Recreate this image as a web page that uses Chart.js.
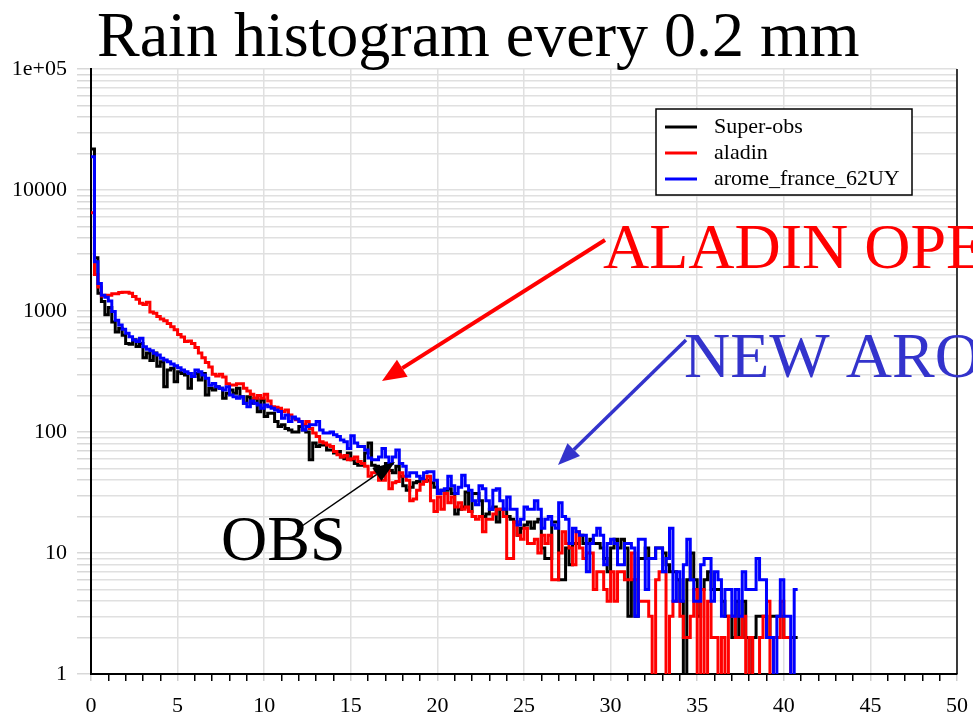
<!DOCTYPE html>
<html>
<head>
<meta charset="utf-8">
<title>Rain histogram every 0.2 mm</title>
<script src="https://cdn.jsdelivr.net/npm/chart.js@4.4.0/dist/chart.umd.min.js"></script>
<style>
    html, body { margin: 0; padding: 0; background: #fff; }
    #wrap { width: 973px; height: 720px; position: relative; }
</style>
</head>
<body>
<div id="wrap"><canvas id="rainChart" width="973" height="720"></canvas></div>
<script>
// ============================
// Data (counts per 0.2 mm bin, first bin starts at 0 mm)
// ============================
const binWidth = 0.2;

const superObs = [
    21800, 2750, 1400, 1200, 930, 1070, 810, 670, 720, 630,
    540, 530, 580, 510, 540, 410, 450, 390, 450, 350,
    380, 237, 325, 336, 260, 315, 305, 296, 230, 287,
    305, 269, 305, 202, 230, 222, 237, 230, 190, 209,
    222, 209, 230, 196, 173, 196, 173, 190, 147, 184,
    134, 143, 143, 122, 111, 115, 107, 104, 100, 100,
    111, 104, 100, 59, 81, 76, 78, 78, 71, 71,
    67, 69, 62, 60, 67, 59, 55, 53, 53, 67,
    81, 53, 52, 48, 50, 55, 48, 46, 52, 43,
    36, 33, 35, 38, 39, 41, 40, 40, 38, 35,
    31, 33, 33, 34, 31, 21, 23, 24, 32, 22,
    31, 31, 27, 20, 21, 23, 24, 18, 23, 23,
    20, 19, 18, 14, 16, 17, 18, 16, 18, 19,
    11, 9, 9, 18, 18, 6, 6, 11, 8, 12,
    12, 14, 12, 12, 13, 12, 12, 11, 9, 7,
    11, 13, 11, 13, 11, 3, 6, 3, 9, 9,
    11, 9, 9, 11, 11, 10, 8, 7, 7, 6,
    4, 0, 6, 10, 6, 3, 5, 6, 7, 5,
    5, 5, 4, 3, 3, 2, 4, 2, 4, 2,
    0, 2, 3, 3, 3, 2, 3, 3, 3, 3,
    2, 2, 2, 2
];

const aladin = [
    6500, 2000, 1580, 1330, 1350, 1350, 1390, 1390, 1420, 1430,
    1430, 1400, 1320, 1250, 1160, 1130, 1180, 980, 960, 900,
    860, 830, 790, 740, 700, 640, 610, 560, 565, 540,
    500, 450, 410, 375, 345, 300, 290, 300, 285, 250,
    245, 245, 250, 250, 230, 218, 205, 190, 200, 190,
    205, 180, 162, 160, 157, 148, 152, 138, 130, 126,
    122, 115, 122, 107, 98, 92, 83, 81, 78, 76,
    69, 65, 62, 64, 59, 60, 62, 57, 55, 52,
    43, 46, 48, 40, 40, 48, 34, 38, 39, 46,
    43, 40, 27, 28, 33, 37, 39, 43, 27, 22,
    29, 23, 31, 26, 29, 24, 26, 23, 24, 22,
    20, 19, 20, 15, 19, 19, 21, 23, 23, 20,
    9, 9, 18, 14, 13, 16, 12, 12, 13, 10,
    14, 12, 14, 6, 6, 10, 15, 12, 11, 8,
    15, 11, 9, 10, 10, 5, 7, 7, 5, 4,
    7, 4, 7, 7, 6, 6, 10, 6, 4, 4,
    4, 3, 0, 6, 7, 7, 0, 3, 4, 4,
    3, 2, 2, 3, 5, 0, 5, 0, 4, 2,
    2, 0, 2, 0, 3, 3, 2, 2, 3, 0,
    2, 0, 0, 2, 3, 4, 0, 2, 2, 4,
    2, 2, 0, 0
];

const arome = [
    18800, 2550, 1690, 1350, 1300, 1210, 990, 840, 766, 706,
    654, 613, 576, 560, 595, 507, 483, 470, 447, 433,
    406, 394, 381, 365, 352, 340, 325, 315, 305, 287,
    325, 315, 296, 278, 244, 252, 237, 230, 222, 237,
    202, 196, 190, 196, 173, 162, 180, 173, 167, 157,
    167, 162, 157, 152, 148, 130, 138, 122, 133, 128,
    122, 104, 111, 115, 115, 122, 104, 98, 98, 100,
    95, 92, 86, 83, 73, 93, 81, 76, 76, 71,
    61, 59, 59, 62, 73, 62, 55, 62, 71, 55,
    52, 43, 46, 46, 43, 41, 46, 47, 47, 40,
    31, 33, 34, 43, 36, 31, 35, 44, 36, 33,
    27, 25, 36, 34, 27, 23, 33, 34, 27, 23,
    29, 23, 23, 17, 19, 24, 23, 23, 27, 23,
    16, 19, 20, 17, 16, 26, 20, 19, 12, 16,
    15, 14, 14, 7, 12, 14, 16, 14, 8, 12,
    13, 12, 8, 8, 12, 12, 11, 3, 13, 13,
    5, 9, 9, 11, 11, 7, 9, 16, 4, 7,
    4, 8, 13, 6, 4, 4, 8, 9, 9, 4,
    7, 6, 3, 5, 5, 3, 5, 3, 7, 5,
    5, 5, 9, 6, 6, 2, 2, 0, 3, 6,
    3, 3, 0, 5
];

const seriesLabels = ["Super-obs", "aladin", "arome_france_62UY"];
const seriesColors = ["#000000", "#ff0000", "#0000ff"];

const xTickLabels = [0, 5, 10, 15, 20, 25, 30, 35, 40, 45, 50];
const yMajorTicks = [1, 10, 100, 1000, 10000, 100000];
const yTickLabels = ["1", "10", "100", "1000", "10000", "1e+05"];

// empty bins sit below the log axis and get clipped at the bottom
const emptyBinLevel = 0.5;

const serifFont = "'Liberation Serif', 'Times New Roman', serif";

// ============================
// Build step points from the bins
// ============================
function toSteps(values) {
    const pts = values.map((v, i) => ({
        x: Math.round(i * binWidth * 10) / 10,
        y: v > 0 ? v : emptyBinLevel
    }));
    const last = pts[pts.length - 1];
    pts.push({ x: Math.round(values.length * binWidth * 10) / 10, y: last.y });
    return pts;
}

// ============================
// Annotation / legend plugin
// ============================
function drawArrow(ctx, x1, y1, x2, y2, color, width, headLen, headHalf) {
    const ang = Math.atan2(y2 - y1, x2 - x1);
    const bx = x2 - headLen * Math.cos(ang);
    const by = y2 - headLen * Math.sin(ang);
    ctx.save();
    ctx.strokeStyle = color;
    ctx.fillStyle = color;
    ctx.lineWidth = width;
    ctx.beginPath();
    ctx.moveTo(x1, y1);
    ctx.lineTo(bx, by);
    ctx.stroke();
    ctx.beginPath();
    ctx.moveTo(x2, y2);
    ctx.lineTo(bx + headHalf * Math.sin(ang), by - headHalf * Math.cos(ang));
    ctx.lineTo(bx - headHalf * Math.sin(ang), by + headHalf * Math.cos(ang));
    ctx.closePath();
    ctx.fill();
    ctx.restore();
}

const decorations = {
    id: "decorations",
    afterDraw(chart) {
        const ctx = chart.ctx;
        const area = chart.chartArea;

        // right frame
        ctx.save();
        ctx.strokeStyle = "#000";
        ctx.lineWidth = 1.5;
        ctx.beginPath();
        ctx.moveTo(area.right, area.top);
        ctx.lineTo(area.right, area.bottom);
        ctx.stroke();
        ctx.restore();

        // legend box
        ctx.save();
        ctx.fillStyle = "#fff";
        ctx.fillRect(656, 109, 256, 86);
        ctx.strokeStyle = "#000";
        ctx.lineWidth = 1.5;
        ctx.strokeRect(656, 109, 256, 86);
        ctx.font = "22px " + serifFont;
        ctx.textBaseline = "middle";
        ctx.textAlign = "left";
        chart.data.datasets.forEach((ds, i) => {
            const y = 127 + i * 26;
            ctx.strokeStyle = ds.borderColor;
            ctx.lineWidth = 3;
            ctx.beginPath();
            ctx.moveTo(665, y);
            ctx.lineTo(697, y);
            ctx.stroke();
            ctx.fillStyle = "#000";
            ctx.fillText(ds.label, 714, y);
        });
        ctx.restore();

        // title and notes
        ctx.save();
        ctx.textBaseline = "alphabetic";
        ctx.textAlign = "left";
        ctx.font = "64px " + serifFont;
        ctx.fillStyle = "#000";
        ctx.fillText("Rain histogram every 0.2 mm", 97, 56);
        ctx.fillStyle = "#ff0000";
        ctx.fillText("ALADIN OPE", 603, 268);
        ctx.fillStyle = "#3333cc";
        ctx.fillText("NEW ARO", 684, 377);
        ctx.fillStyle = "#000";
        ctx.fillText("OBS", 221, 560);
        ctx.restore();

        drawArrow(ctx, 605, 240, 382, 381, "#ff0000", 4, 24, 10);
        drawArrow(ctx, 686, 340, 558, 465, "#3333cc", 3.5, 22, 9);
        drawArrow(ctx, 302, 526, 395, 462, "#000000", 1.5, 22, 8);
    }
};

// ============================
// Chart
// ============================
const datasets = [superObs, aladin, arome].map((vals, i) => ({
    label: seriesLabels[i],
    data: toSteps(vals),
    borderColor: seriesColors[i],
    backgroundColor: seriesColors[i],
    borderWidth: 3,
    stepped: "before",
    pointRadius: 0,
    fill: false,
    order: 3 - i
}));

new Chart(document.getElementById("rainChart"), {
    type: "line",
    data: { datasets: datasets },
    options: {
        responsive: false,
        animation: false,
        layout: { padding: { top: 69, right: 16, left: 0, bottom: 0 } },
        plugins: {
            legend: { display: false },
            title: { display: false },
            tooltip: { enabled: false }
        },
        scales: {
            x: {
                type: "linear",
                min: xTickLabels[0],
                max: xTickLabels[xTickLabels.length - 1],
                afterBuildTicks: (scale) => {
                    const ticks = [];
                    for (let v = xTickLabels[0]; v <= xTickLabels[xTickLabels.length - 1]; v++) {
                        ticks.push({ value: v });
                    }
                    scale.ticks = ticks;
                },
                afterFit: (scale) => {
                    scale.height = 46;
                    scale.paddingLeft = 0;
                    scale.paddingRight = 0;
                },
                ticks: {
                    autoSkip: false,
                    maxRotation: 0,
                    padding: 12,
                    color: "#000",
                    font: { family: serifFont, size: 22 },
                    callback: (value) => xTickLabels.includes(value) ? String(value) : ""
                },
                grid: {
                    tickLength: 7,
                    lineWidth: 1.5,
                    color: (c) => {
                        const v = c.tick ? c.tick.value : null;
                        return (v !== null && xTickLabels.includes(v)) ? "#e0e0e0" : "rgba(0,0,0,0)";
                    },
                    tickColor: (c) => {
                        const v = c.tick ? c.tick.value : null;
                        return (v !== null && xTickLabels.includes(v)) ? "#d0d0d0" : "#000";
                    }
                },
                border: { color: "#000", width: 2 }
            },
            y: {
                type: "logarithmic",
                min: yMajorTicks[0],
                max: yMajorTicks[yMajorTicks.length - 1],
                afterBuildTicks: (scale) => {
                    const ticks = [];
                    yMajorTicks.forEach((m, idx) => {
                        ticks.push({ value: m, major: true });
                        if (idx < yMajorTicks.length - 1) {
                            for (let k = 2; k <= 9; k++) ticks.push({ value: m * k });
                        }
                    });
                    scale.ticks = ticks;
                },
                afterFit: (scale) => { scale.width = 91; },
                ticks: {
                    autoSkip: false,
                    padding: 10,
                    color: "#000",
                    font: { family: serifFont, size: 22 },
                    callback: (value) => {
                        const idx = yMajorTicks.indexOf(value);
                        return idx >= 0 ? yTickLabels[idx] : "";
                    }
                },
                grid: {
                    tickLength: 14,
                    lineWidth: 1.5,
                    color: "#e0e0e0",
                    tickColor: "#d8d8d8"
                },
                border: { color: "#000", width: 2 }
            }
        }
    },
    plugins: [decorations]
});
</script>
</body>
</html>
